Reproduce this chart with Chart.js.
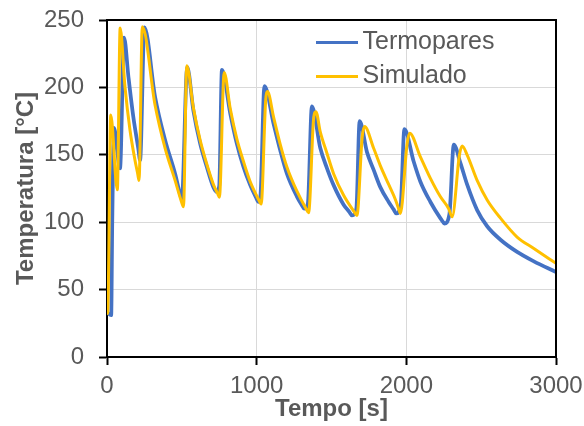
<!DOCTYPE html>
<html><head><meta charset="utf-8">
<script src="https://cdn.jsdelivr.net/npm/chart.js@4"></script>
<style>html,body{margin:0;padding:0;background:#fff;}</style>
</head><body>
<canvas id="c" width="584" height="426" style="display:block;width:584px;height:426px"></canvas>
<script>
// ---- data ----
const seriesNames = ['Termopares', 'Simulado'];
const termoTime = [0, 28, 35, 47, 87, 114, 143, 176, 210, 221, 250, 321, 388, 455, 488, 500, 536, 577, 622, 667, 711, 733, 750, 768, 823, 867, 912, 957, 995, 1012, 1025, 1052, 1113, 1157, 1202, 1269, 1300, 1318, 1342, 1369, 1425, 1470, 1514, 1581, 1620, 1637, 1666, 1688, 1737, 1781, 1826, 1882, 1915, 1933, 1962, 1987, 2049, 2094, 2161, 2227, 2240, 2254, 2288, 2317, 2361, 2406, 2473, 2540, 2629, 2740, 2852, 3000];
const termoTemp = [33, 31, 100, 170, 140, 237, 208, 178, 154, 146, 244.5, 193, 161, 136, 121, 117.5, 215, 183, 158.5, 141, 126, 122.5, 127, 213, 181, 158.5, 141, 127.5, 118.5, 115, 119, 201, 173, 153.5, 136, 119, 113, 110, 114, 186, 155, 140, 127.5, 113, 107.5, 105, 110, 175, 152, 139, 126, 115, 109.5, 106.5, 112, 169, 145, 130, 115, 103, 101, 99, 106, 157.5, 144, 128, 109, 97, 87, 78, 71, 63];
const simTime = [0, 5, 25, 69, 88, 120, 154, 187, 205, 214, 236, 321, 388, 455, 498, 511, 533, 577, 622, 667, 711, 738, 751, 783, 823, 867, 912, 957, 1012, 1030, 1060, 1072, 1113, 1157, 1202, 1269, 1330, 1347, 1380, 1396, 1425, 1470, 1514, 1581, 1650, 1670, 1705, 1721, 1781, 1826, 1882, 1928, 1947, 1960, 2005, 2022, 2094, 2161, 2227, 2283, 2306, 2355, 2373, 2406, 2473, 2540, 2629, 2740, 2852, 3000];
const simTemp = [32, 33, 179.5, 124, 244, 200.5, 168, 146, 136, 131, 245, 187, 155, 131, 115, 111.5, 216, 185, 161, 143, 128, 121.5, 118.5, 211, 184.5, 162, 145, 130, 117, 113.5, 190, 197, 178, 158, 141, 123, 110, 107, 176, 182, 167, 151, 136, 120, 108, 105, 163, 171, 155, 142, 128, 116.5, 110.5, 106.5, 158, 166, 148.5, 132.5, 119, 110, 104, 150, 156.5, 150, 131, 116.5, 103, 89, 80.5, 69.5];
const xAxisRange = [0, 3000];
const xTickStep = 1000;
const yAxisRange = [0, 250];
const yTickStep = 50;
const xTitle = 'Tempo [s]';
const yTitle = 'Temperatura [°C]';

// ---- styling ----
const BLUE = '#4472C4', GOLD = '#FFC000', TXT = '#595959', GRID = '#D9D9D9';
Chart.defaults.font.family = "'Liberation Sans', Arial, sans-serif";

function lineSample(color) {
  const c = document.createElement('canvas');
  c.width = 42; c.height = 3;
  const g = c.getContext('2d');
  g.fillStyle = color; g.fillRect(0, 0, 42, 3);
  return c;
}
const legendSamples = [lineSample(BLUE), lineSample(GOLD)];

const toPts = (ts, vs) => ts.map((t, i) => ({x: t, y: vs[i]}));

const framePlugin = {
  id: 'frame',
  afterDatasetsDraw(chart) {
    const {ctx, chartArea: a} = chart;
    ctx.save();
    ctx.strokeStyle = '#000'; ctx.lineWidth = 2;
    ctx.beginPath();
    ctx.moveTo(a.left - 1, a.top); ctx.lineTo(a.right, a.top); ctx.lineTo(a.right, a.bottom + 1);
    ctx.stroke();
    ctx.restore();
  }
};
const legendPlace = {
  id: 'legendPlace',
  afterUpdate(chart) {
    const lg = chart.legend; if (!lg) return;
    const a = chart.chartArea;
    const w = lg.width;
    lg.left = a.left + 208; lg.top = a.top + 1;
    lg.right = lg.left + w; lg.bottom = a.bottom;
  }
};

new Chart(document.getElementById('c'), {
  type: 'line',
  data: {
    datasets: [
      {label: seriesNames[0], data: toPts(termoTime, termoTemp), borderColor: BLUE, backgroundColor: BLUE,
       borderWidth: 3.75, pointRadius: 0, cubicInterpolationMode: 'monotone', order: 1},
      {label: seriesNames[1], data: toPts(simTime, simTemp), borderColor: GOLD, backgroundColor: GOLD,
       borderWidth: 3, pointRadius: 0, cubicInterpolationMode: 'monotone', order: 0}
    ]
  },
  options: {
    responsive: false, animation: false, devicePixelRatio: 1,
    layout: {padding: {left: 0, top: 20, right: 28, bottom: 0}},
    scales: {
      x: {
        type: 'linear', min: xAxisRange[0], max: xAxisRange[1],
        ticks: {stepSize: xTickStep, color: TXT, font: {size: 24}, padding: 7, maxRotation: 0, autoSkip: false,
                callback: v => String(v)},
        grid: {color: GRID, lineWidth: 1, tickColor: '#000', tickWidth: 2, tickLength: 8},
        border: {color: '#000', width: 2},
        title: {display: true, text: xTitle, color: TXT, font: {size: 24, weight: 'bold'}, padding: {top: 0, bottom: 2}},
        afterFit(s) { s.height = 69; s.paddingLeft = 0; s.paddingRight = 0; }
      },
      y: {
        min: yAxisRange[0], max: yAxisRange[1],
        ticks: {stepSize: yTickStep, color: TXT, font: {size: 24}, padding: 15, callback: v => String(v)},
        grid: {color: GRID, lineWidth: 1, tickColor: '#000', tickWidth: 2, tickLength: 8},
        border: {color: '#000', width: 2},
        title: {display: true, text: yTitle, color: TXT, font: {size: 24, weight: 'bold'}, padding: {top: 12, bottom: 0}},
        afterFit(s) { s.width = 107; s.paddingTop = 0; s.paddingBottom = 0; }
      }
    },
    plugins: {
      tooltip: {enabled: false},
      legend: {
        position: 'chartArea', align: 'start',
        labels: {
          usePointStyle: true, pointStyleWidth: 26, color: TXT, font: {size: 25}, padding: 9,
          sort: (a, b) => a.datasetIndex - b.datasetIndex,
          generateLabels(chart) {
            const items = Chart.defaults.plugins.legend.labels.generateLabels(chart);
            items.forEach(it => { it.pointStyle = legendSamples[it.datasetIndex]; });
            return items;
          }
        }
      }
    }
  },
  plugins: [framePlugin, legendPlace]
});
</script>
</body></html>
